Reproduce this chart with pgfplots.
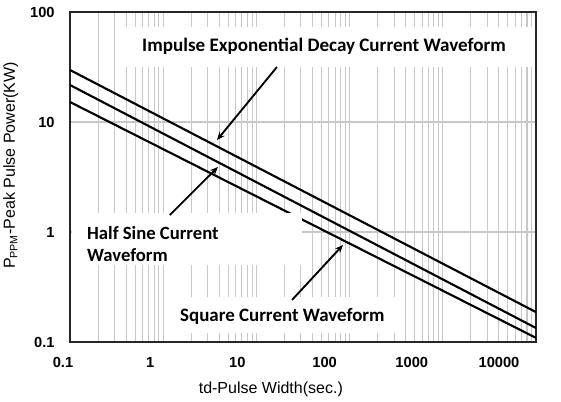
\documentclass[border=0pt]{standalone}
\usepackage{fontspec}
\setmainfont{Liberation Sans}
\newfontfamily\calib{Carlito}
\usepackage{pgfplots}
\pgfplotsset{compat=1.18}
\usetikzlibrary{arrows.meta}
\definecolor{gridgray}{RGB}{200,200,200}
\begin{document}
\begin{tikzpicture}
\begin{axis}[
  xmode=log, ymode=log,
  scale only axis,
  width=349.5pt, height=247.5pt,
  xmin=0.1, xmax=10000, ymin=0.1, ymax=100,
  xtick={0.1,1,10,100,1000,10000},
  xticklabels={0.1,1,10,100,1000,10000},
  ytick={0.1,1,10,100},
  yticklabels={0.1,1,10,100},
  minor xtick={0.2,0.3,0.4,0.5,0.6,0.7,0.8,0.9,2,3,4,5,6,7,8,9,20,30,40,50,60,70,80,90,200,300,400,500,600,700,800,900,2000,3000,4000,5000,6000,7000,8000,9000},
  minor ytick={},
  xmajorgrids, ymajorgrids, xminorgrids,
  grid style={gridgray, line width=0.8pt},
  minor grid style={gridgray, line width=0.8pt},
  major tick length=0pt, minor tick length=0pt,
  axis line style={black!85, line width=1.2pt},
  /pgf/number format/assume math mode=true,
  ticklabel style={font=\bfseries\fontsize{11}{12}\selectfont},
  xticklabel style={yshift=-8pt, xshift={-5.25pt-4.5pt*\ticknum}},
  yticklabel style={xshift=-8pt},
  xlabel={td-Pulse Width(sec.)},
  ylabel={P\textsubscript{PPM}-Peak Pulse Power(KW)},
  xlabel style={font=\fontsize{12}{14}\selectfont, at={(axis description cs:0.431,0)}, anchor=center, yshift=-35.5pt},
  ylabel style={font=\fontsize{12}{14}\selectfont, at={(axis description cs:-0.127,0.535)}, anchor=center, rotate=0},
]
\addplot[black, line width=1.6pt] coordinates {(0.1,29.7) (10000,0.187)};
\addplot[black, line width=1.6pt] coordinates {(0.1,21.7) (10000,0.134)};
\addplot[black, line width=1.6pt] coordinates {(0.1,15.2) (10000,0.109)};
% white boxes behind the labels
\fill[white] (axis cs:0.327,31.6) rectangle (axis cs:9510,73.1);
\fill[white] (axis cs:0.105,0.501) rectangle (axis cs:30.8,1.49);
\fill[white] (axis cs:1.34,0.121) rectangle (axis cs:347,0.2566);
\node[anchor=west, font=\calib\bfseries\fontsize{14.3}{16}\selectfont, inner sep=0pt] at (axis cs:0.592,49.1) {Impulse Exponential Decay Current Waveform};
\node[anchor=west, align=left, font=\calib\bfseries\fontsize{14}{16.5}\selectfont, inner sep=0pt] at (axis cs:0.152,0.778) {Half Sine Current\\Waveform};
\node[anchor=west, font=\calib\bfseries\fontsize{14.2}{16}\selectfont, inner sep=0pt] at (axis cs:1.51,0.172) {Square Current Waveform};
\draw[line width=1.4pt, -{Stealth[length=6pt,width=5pt]}] (axis cs:16.6,31.6) -- (axis cs:3.78,6.86);
\draw[line width=1.4pt, -{Stealth[length=6pt,width=5pt]}] (axis cs:1.18,1.43) -- (axis cs:3.87,3.90);
\draw[line width=1.4pt, -{Stealth[length=6pt,width=5pt]}] (axis cs:24.1,0.241) -- (axis cs:84.9,0.762);
\end{axis}
\pgfresetboundingbox
\path (-52.5pt,-44.25pt) rectangle (368.25pt,256.5pt);
\end{tikzpicture}
\end{document}
